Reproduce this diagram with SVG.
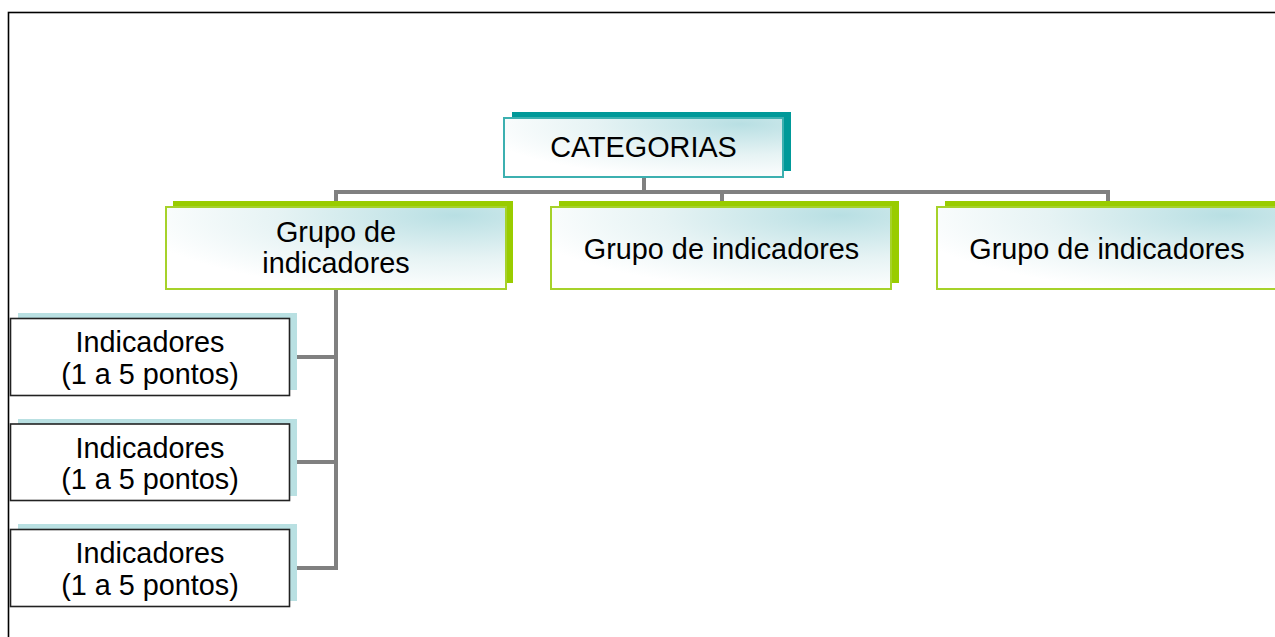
<svg xmlns="http://www.w3.org/2000/svg" width="1275" height="637" viewBox="0 0 1275 637">
<style>
text{font-family:"Liberation Sans",Arial,sans-serif;font-size:28.8px;fill:#000;text-anchor:middle}
.conn{fill:none;stroke:#808080;stroke-width:4}
.gshadow{fill:#99cc00}
.gfront{fill:url(#grad);stroke:#a6d22a;stroke-width:2}
.tshadow{fill:#009999}
.tfront{fill:url(#grad);stroke:#3cb0b0;stroke-width:2}
.ishadow{fill:#b9e0e2}
.ifront{fill:#fff;stroke:#222;stroke-width:1.6}
</style>
<defs>
<radialGradient id="grad" cx="0.85" cy="0.1" r="0.95" fx="0.85" fy="0.1">
<stop offset="0" stop-color="#b8dfe3"/>
<stop offset="0.55" stop-color="#e6f3f4"/>
<stop offset="1" stop-color="#ffffff"/>
</radialGradient>
</defs>
<rect x="8.5" y="12.5" width="1320" height="700" fill="#fff" stroke="#000" stroke-width="1.6"/>
<g id="connectors">
<path class="conn" d="M644 177 V192 M336 206 V192 H1108 V202 M722 192 V202"/>
<path class="conn" d="M336 289 V568 H297 M297 357 H336 M297 462 H336"/>
</g>
<g id="categorias">
<rect class="tshadow" x="512" y="112" width="279" height="59"/>
<rect class="tfront" x="504" y="118" width="279" height="59"/>
<text x="643.5" y="157">CATEGORIAS</text>
</g>
<g id="grupo1">
<rect class="gshadow" x="173" y="201" width="340" height="82"/>
<rect class="gfront" x="166" y="207" width="340" height="82"/>
<text x="336" y="242">Grupo de</text>
<text x="336" y="273">indicadores</text>
</g>
<g id="grupo2">
<rect class="gshadow" x="559" y="201" width="340" height="82"/>
<rect class="gfront" x="551" y="207" width="340" height="82"/>
<text x="721.5" y="259">Grupo de indicadores</text>
</g>
<g id="grupo3">
<rect class="gshadow" x="945" y="201" width="340" height="82"/>
<rect class="gfront" x="937" y="207" width="340" height="82"/>
<text x="1107" y="259">Grupo de indicadores</text>
</g>
<g id="indicadores1">
<rect class="ishadow" x="18" y="313" width="279" height="77"/>
<rect class="ifront" x="10.5" y="318.5" width="279" height="77"/>
<text x="150" y="352">Indicadores</text>
<text x="150" y="384">(1 a 5 pontos)</text>
</g>
<g id="indicadores2">
<rect class="ishadow" x="18" y="419" width="279" height="77"/>
<rect class="ifront" x="10.5" y="424" width="279" height="76.5"/>
<text x="150" y="458">Indicadores</text>
<text x="150" y="489">(1 a 5 pontos)</text>
</g>
<g id="indicadores3">
<rect class="ishadow" x="18" y="524" width="279" height="77"/>
<rect class="ifront" x="10.5" y="529.5" width="279" height="77"/>
<text x="150" y="563">Indicadores</text>
<text x="150" y="595">(1 a 5 pontos)</text>
</g>
</svg>
